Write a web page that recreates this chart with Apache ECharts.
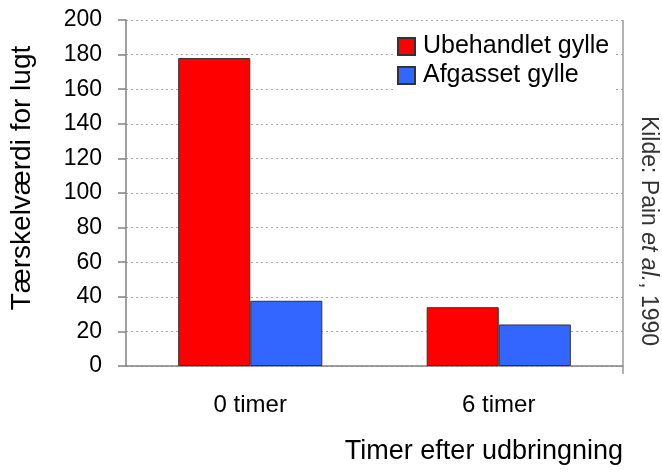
<!DOCTYPE html>
<html>
<head>
<meta charset="utf-8">
<script src="https://cdn.jsdelivr.net/npm/echarts@6/dist/echarts.min.js"></script>
<style>
  html, body { margin: 0; padding: 0; background: #fff; }
  #chart { width: 662px; height: 472px; }
</style>
</head>
<body>
<div id="chart"></div>
<script>
const categories = ['0 timer', '6 timer'];
const untreated = [178, 34];
const degassed = [37.7, 24];
const yTicks = [0, 20, 40, 60, 80, 100, 120, 140, 160, 180, 200];

const chart = echarts.init(document.getElementById('chart'));
const font = 'Liberation Sans, Arial, sans-serif';

const option = {
  backgroundColor: '#fff',
  animation: false,
  grid: { left: 124, right: 39, top: 20, bottom: 106 },
  legend: {
    top: 30,
    left: 393,
    orient: 'vertical',
    backgroundColor: '#fff',
    padding: [4, 6, 4, 4],
    itemGap: 4,
    itemWidth: 17,
    itemHeight: 17,
    icon: 'rect',
    textStyle: { fontFamily: font, fontSize: 25, color: '#000', padding: [0, 0, 0, 3] },
    data: ['Ubehandlet gylle', 'Afgasset gylle']
  },
  xAxis: {
    type: 'category',
    data: categories,
    axisLine: { lineStyle: { color: '#808080', width: 1.5 } },
    axisTick: { length: 8, lineStyle: { color: '#808080', width: 1.5 } },
    axisLabel: { fontFamily: font, fontSize: 24, color: '#000', margin: 27 },
    name: 'Timer efter udbringning',
    nameLocation: 'end',
    nameGap: 0,
    nameTextStyle: {
      fontFamily: font, fontSize: 27, color: '#000',
      align: 'right', verticalAlign: 'top', padding: [72, 0, 0, 0]
    }
  },
  yAxis: {
    type: 'value',
    min: yTicks[0],
    max: yTicks[yTicks.length - 1],
    interval: 20,
    axisLine: { show: true, lineStyle: { color: '#808080', width: 1.5 } },
    axisTick: { show: true, length: 8, lineStyle: { color: '#808080', width: 1.5 } },
    axisLabel: { fontFamily: font, fontSize: 23, color: '#000', margin: 24 },
    splitLine: { lineStyle: { color: '#aaa', type: [2, 3], width: 1 } },
    name: 'Tærskelværdi for lugt',
    nameLocation: 'middle',
    nameGap: 90,
    nameTextStyle: { fontFamily: font, fontSize: 28, color: '#000', padding: [0, 0, 0, 30] }
  },
  series: [
    {
      name: 'Ubehandlet gylle',
      type: 'bar',
      data: untreated,
      barGap: '0%',
      barCategoryGap: '42%',
      itemStyle: { color: '#ff0000', borderColor: '#333', borderWidth: 1 }
    },
    {
      name: 'Afgasset gylle',
      type: 'bar',
      data: degassed,
      itemStyle: { color: '#3366ff', borderColor: '#333', borderWidth: 1 }
    }
  ],
  graphic: [
    {
      type: 'line',
      shape: { x1: 623, y1: 20, x2: 623, y2: 374 },
      style: { stroke: '#999', lineWidth: 1.5 },
      z: 1
    },
    {
      type: 'text',
      x: 648,
      y: 231,
      rotation: -Math.PI / 2,
      style: {
        text: '{n|Kilde: Pain }{i|et al.}{n|, 1990}',
        align: 'center',
        verticalAlign: 'middle',
        rich: {
          n: { fontFamily: font, fontSize: 23, fill: '#333' },
          i: { fontFamily: font, fontSize: 23, fill: '#333', fontStyle: 'italic' }
        }
      }
    }
  ]
};

chart.setOption(option);
</script>
</body>
</html>
